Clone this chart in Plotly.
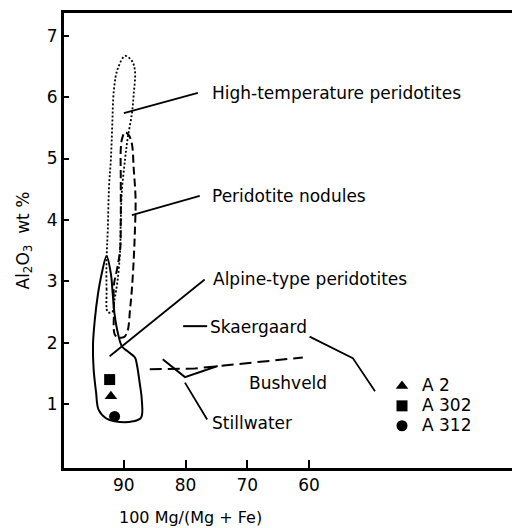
import plotly.graph_objects as go

# ---- Data ----
# High-temperature peridotites envelope (dotted)
ht_mg = [92.6, 92.8, 92.8, 92.6, 92.4, 92.1, 91.9, 91.6, 91.0, 89.8, 88.7, 88.2, 88.4, 88.7,
         89.4, 89.8, 90.3, 90.5, 90.6, 91.0, 91.5, 91.9, 92.6]
ht_al = [2.50, 2.87, 3.36, 3.85, 4.55, 4.99, 5.48, 6.13, 6.46, 6.67, 6.59, 6.43, 6.05, 5.73,
         5.32, 4.99, 4.50, 4.01, 3.52, 3.03, 2.71, 2.50, 2.50]

# Peridotite nodules envelope (dashed)
nod_mg = [91.5, 91.6, 91.6, 91.1, 90.6, 90.5, 90.5, 90.5, 90.3, 89.8, 89.2, 88.7, 88.4, 88.1,
          88.2, 88.4, 88.7, 89.0, 89.4, 90.0, 91.0, 91.5]
nod_al = [2.14, 2.54, 2.95, 3.20, 3.52, 4.01, 4.67, 5.15, 5.32, 5.43, 5.38, 5.24, 4.83, 4.34,
          3.85, 3.36, 2.87, 2.54, 2.19, 2.09, 2.09, 2.14]

# Alpine-type peridotites envelope (solid)
alp_mg = [92.8, 93.6, 94.2, 94.7, 95.0, 94.9, 94.5, 94.1, 92.9, 91.5, 88.5, 87.2, 87.1, 87.4,
          87.9, 88.2, 89.4, 90.3, 91.0, 91.5, 91.8, 92.1, 92.8]
alp_al = [3.41, 3.12, 2.79, 2.38, 1.97, 1.57, 1.19, 0.91, 0.77, 0.72, 0.72, 0.78, 1.08, 1.32,
          1.65, 1.76, 1.86, 1.94, 2.17, 2.46, 2.79, 3.12, 3.41]

# Layered intrusion trends
bush_mg = [85.8, 78.5, 61.0]
bush_al = [1.57, 1.58, 1.76]
still_mg = [83.7, 80.1, 74.8]
still_al = [1.73, 1.44, 1.62]
skaer_mg = [80.4, 76.5]
skaer_al = [2.27, 2.27]

# Samples
sample_names = ["A 2", "A 302", "A 312"]
sample_symbols = ["triangle-up", "square", "circle"]
sample_mg = [92.1, 92.3, 91.5]
sample_al = [1.13, 1.40, 0.80]

# Labels and their leader lines
labels = ["High-temperature peridotites", "Peridotite nodules", "Alpine-type peridotites",
          "Skaergaard", "Bushveld", "Stillwater"]
label_mg = [76.0, 76.0, 75.9, 76.4, 70.1, 76.0]
label_al = [6.07, 4.39, 3.03, 2.25, 1.35, 0.70]
leaders = [
    ([90.0, 78.0], [5.74, 6.07]),
    ([88.7, 77.7], [4.08, 4.39]),
    ([92.3, 76.9], [1.78, 3.03]),
    ([59.9, 52.9, 49.3], [2.10, 1.75, 1.21]),
    ([80.1, 76.5], [1.35, 0.75]),
]

x_ticks = [90, 80, 70, 60]
y_ticks = [1, 2, 3, 4, 5, 6, 7]

FONT = "DejaVu Sans"
fig = go.Figure()

fig.add_trace(go.Scatter(x=ht_mg, y=ht_al, mode="lines", showlegend=False,
                         line=dict(color="black", width=1.8, dash="2px,2px", shape="spline")))
fig.add_trace(go.Scatter(x=nod_mg, y=nod_al, mode="lines", showlegend=False,
                         line=dict(color="black", width=2, dash="8px,4px", shape="spline")))
fig.add_trace(go.Scatter(x=alp_mg, y=alp_al, mode="lines", showlegend=False,
                         line=dict(color="black", width=2, shape="spline")))
fig.add_trace(go.Scatter(x=bush_mg, y=bush_al, mode="lines", showlegend=False,
                         line=dict(color="black", width=2, dash="12px,6px")))
fig.add_trace(go.Scatter(x=still_mg, y=still_al, mode="lines", showlegend=False,
                         line=dict(color="black", width=2)))
fig.add_trace(go.Scatter(x=skaer_mg, y=skaer_al, mode="lines", showlegend=False,
                         line=dict(color="black", width=2)))
for lx, ly in leaders:
    fig.add_trace(go.Scatter(x=lx, y=ly, mode="lines", showlegend=False,
                             line=dict(color="black", width=1.8)))

for name, sym, mx, my in zip(sample_names, sample_symbols, sample_mg, sample_al):
    fig.add_trace(go.Scatter(x=[mx], y=[my], mode="markers",
                             name="<span style='font-size:17px'>" + name + "</span>",
                             marker=dict(symbol=sym, color="black", size=11)))

for t, lx, ly in zip(labels, label_mg, label_al):
    fig.add_annotation(x=lx, y=ly, text=t, showarrow=False, xanchor="left", yanchor="middle",
                       font=dict(family=FONT, size=17, color="black"))

fig.add_annotation(x=(24 - 64) / 448, y=0.5, xref="paper", yref="paper",
                   text="Al<sub>2</sub>O<sub>3</sub>  wt %", textangle=-90, showarrow=False,
                   xanchor="center", yanchor="middle",
                   font=dict(family=FONT, size=17, color="black"))
fig.add_annotation(x=(190 - 64) / 448, y=-(517 - 468) / 455, xref="paper", yref="paper",
                   text="100 Mg/(Mg + Fe)", showarrow=False, xanchor="center", yanchor="middle",
                   font=dict(family=FONT, size=16, color="black"))

fig.update_layout(
    width=512, height=528,
    margin=dict(l=64, r=0, t=13, b=60),
    paper_bgcolor="white", plot_bgcolor="white",
    font=dict(family=FONT, size=17, color="black"),
    legend=dict(x=(382 - 64) / 448, y=(468 - 371) / 455, xanchor="left", yanchor="top",
                bgcolor="rgba(0,0,0,0)", font=dict(family=FONT, size=13, color="black"),
                itemwidth=30, tracegroupgap=0),
    xaxis=dict(range=[99.7, 27.1], tickvals=x_ticks, ticks="inside", ticklen=8, tickwidth=2,
               tickcolor="black", showline=True, linewidth=3, linecolor="black", mirror=True,
               showgrid=False, zeroline=False, tickfont=dict(family=FONT, size=17)),
    yaxis=dict(range=[-0.04, 7.37], tickvals=y_ticks, ticks="inside", ticklen=5, tickwidth=2,
               tickcolor="black", showline=True, linewidth=3, linecolor="black",
               showgrid=False, zeroline=False, tickfont=dict(family=FONT, size=17)),
)

fig.write_html("out.html", config={"displayModeBar": False},
               post_script="document.body.style.margin='0';document.body.style.overflow='hidden';")
